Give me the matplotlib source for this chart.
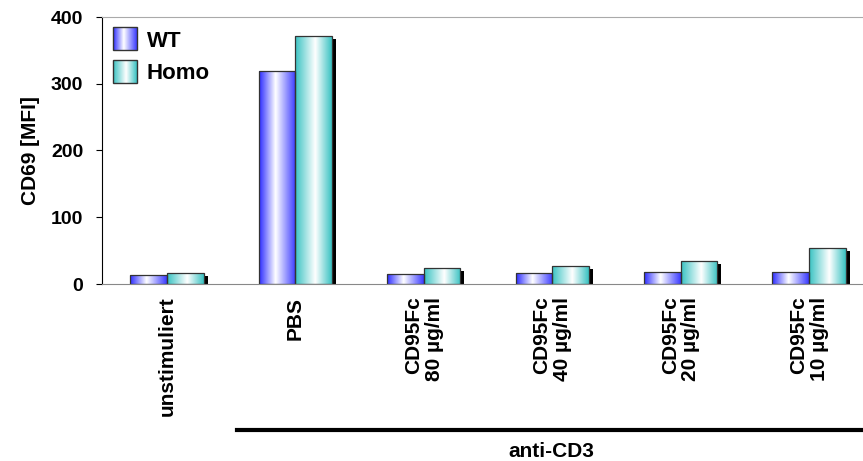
import numpy as np
import matplotlib
matplotlib.use('Agg')
import matplotlib.pyplot as plt
from matplotlib.patches import Rectangle
from matplotlib.colors import LinearSegmentedColormap
import matplotlib.transforms as mtransforms

plt.rcParams['font.family'] = ['Liberation Sans', 'DejaVu Sans']
plt.rcParams['font.weight'] = 'bold'

# Daten
categories = ['unstimuliert', 'PBS', 'CD95Fc\n80 µg/ml', 'CD95Fc\n40 µg/ml',
              'CD95Fc\n20 µg/ml', 'CD95Fc\n10 µg/ml']
wt = [13, 319, 15, 16, 18, 18]
homo = [17, 372, 24, 27, 35, 54]
series = ['WT', 'Homo']
yticks = [0, 100, 200, 300, 400]

# Farbverläufe wie im Original (Rand farbig, Mitte weiß)
cm_wt = LinearSegmentedColormap.from_list(
    'wt', [(0, '#2a2aff'), (0.45, '#ffffff'), (1, '#3a3aff')])
cm_homo = LinearSegmentedColormap.from_list(
    'homo', [(0, '#38c2c2'), (0.55, '#ffffff'), (1, '#38c2c2')])
grad = np.linspace(0, 1, 256).reshape(1, -1)

fig = plt.figure(figsize=(8.63, 4.61), dpi=100)
ax = fig.add_axes([102 / 863, 1 - 284 / 461, 1 - 102 / 863, 267 / 461])

bw = 0.285
x = np.arange(len(categories))
shadow = mtransforms.offset_copy(ax.transData, fig=fig, x=4, y=-3, units='dots')

for vals, cmap, off in [(wt, cm_wt, -bw / 2), (homo, cm_homo, bw / 2)]:
    for xi, v in zip(x, vals):
        x0 = xi + off - bw / 2
        # Schatten, an der Grundlinie abgeschnitten
        ax.add_patch(Rectangle((x0, 0), bw, v, facecolor='black',
                               edgecolor='none', transform=shadow, zorder=1))
        im = ax.imshow(grad, cmap=cmap, aspect='auto',
                       extent=(x0, x0 + bw, 0, v), zorder=2)
        r = Rectangle((x0, 0), bw, v, facecolor='none', edgecolor='#333333',
                      linewidth=0.9, zorder=3)
        ax.add_patch(r)
        im.set_clip_path(r)

ax.set_xlim(-0.506, 5.42)
ax.set_ylim(0, 400)
ax.set_yticks(yticks)
ax.set_yticklabels([str(t) for t in yticks], fontsize=14, fontweight='bold')
ax.set_xticks(x)
ax.set_xticklabels(categories, rotation=90, fontsize=15, fontweight='bold',
                   va='top', ha='center', multialignment='right',
                   linespacing=1.1)
ax.tick_params(axis='x', length=0, pad=9)
ax.tick_params(axis='y', direction='out', length=4.5, width=0.8, pad=9)
ax.set_ylabel('CD69 [MFI]', fontsize=15, fontweight='bold', labelpad=8)

ax.spines['right'].set_visible(False)
ax.spines['top'].set_color('#aaaaaa')
ax.spines['bottom'].set_color('#888888')
ax.spines['bottom'].set_zorder(4)
ax.spines['left'].set_linewidth(0.8)

# Legende mit Farbverlauf
for i, (name, cmap) in enumerate(zip(series, [cm_wt, cm_homo])):
    yb = 0.877 - i * 0.123
    h = 0.086
    im = ax.imshow(grad, cmap=cmap, aspect='auto', transform=ax.transAxes,
                   extent=(0.0145, 0.0455, yb, yb + h), zorder=4)
    ax.add_patch(Rectangle((0.0145, yb), 0.031, h, transform=ax.transAxes,
                           facecolor='none', edgecolor='#333333',
                           linewidth=1.0, zorder=5))
    ax.text(0.059, yb + h / 2 - 0.01, name, transform=ax.transAxes, fontsize=16,
            fontweight='bold', va='center', ha='left')

# anti-CD3 Balken
fig.add_artist(plt.Line2D([237 / 863, 1.0], [1 - 430 / 461, 1 - 430 / 461],
                          color='black', linewidth=3))
fig.text(551 / 863, 1 - 451 / 461, 'anti-CD3', ha='center', va='center',
         fontsize=15, fontweight='bold')

fig.savefig('out.png', dpi=100)
